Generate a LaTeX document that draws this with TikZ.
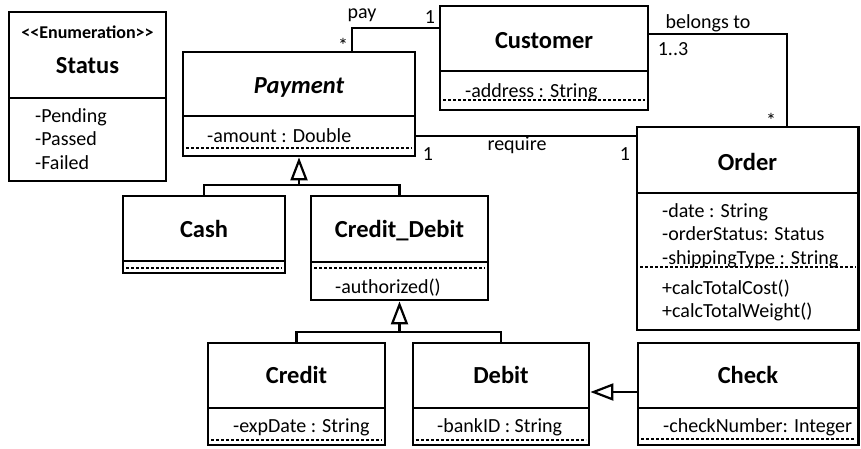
\documentclass[tikz,border=0pt]{standalone}
\usepackage{fontspec}
\setmainfont{Carlito}
\usetikzlibrary{arrows.meta}
\newcommand\umlbox[6]{%
  \node[cls, minimum width={#4pt-#2pt}, minimum height={#5pt-#3pt}] (#1) at ({(#2+#4)/2},{(#3+#5)/2}) {};
  \draw[divline] (#2,#6) -- (#4,#6);
}
\begin{document}
\begin{tikzpicture}[x=1pt,y=-1pt,
  cls/.style={draw, line width=2.8pt, inner sep=0pt},
  divline/.style={line width=2.8pt},
  dashline/.style={line width=1.2pt, dash pattern=on 3pt off 2pt},
  conn/.style={line width=2.2pt},
  genarrow/.style={-{Triangle[open, length=23pt, width=17pt, line width=2.2pt]}},
  ttl/.style={font=\fontsize{24.5}{29}\selectfont\bfseries, inner sep=0pt, anchor=base},
  enum/.style={font=\fontsize{18}{22}\selectfont\bfseries, inner sep=0pt, anchor=base},
  attr/.style={font=\fontsize{20}{24}\selectfont, inner sep=0pt, anchor=base west},
  lbl/.style={font=\fontsize{20}{24}\selectfont, inner sep=0pt, anchor=base}]
\useasboundingbox (0,0) rectangle (861,448);

% classes
\umlbox{status}{9}{12}{166}{181}{98}
\umlbox{customer}{440}{6}{648}{110}{71}
\umlbox{payment}{183}{52}{415}{156}{116}
\umlbox{order}{637}{127}{858.5}{330}{193}
\umlbox{cash}{123}{196}{285}{273}{261}
\umlbox{cd}{311}{196}{488}{300}{262}
\umlbox{credit}{208}{343}{385}{445}{408}
\umlbox{debit}{413}{343}{589}{445}{408}
\umlbox{check}{638}{343}{858.5}{445}{408}

% dashed separators
\draw[dashline] (443,100) -- (645,100);
\draw[dashline] (186,148) -- (412,148);
\draw[dashline] (640,267) -- (855.5,267);
\draw[dashline] (126,268) -- (282,268);
\draw[dashline] (314,268) -- (485,268);
\draw[dashline] (211,440) -- (382,440);
\draw[dashline] (416,440) -- (586,440);
\draw[dashline] (641,439) -- (855.5,439);

% texts
\node[enum] (status-s) at (87.5,38) {<\kern0pt<Enumeration>\kern0pt>};
\node[ttl] (status-t) at (87.5,73) {Status};
\node[attr] (status-a1) at (35,122) {-Pending};
\node[attr] (status-a2) at (35,145) {-Passed};
\node[attr] (status-a3) at (35,169) {-Failed};

\node[ttl] (customer-t) at (544,48) {Customer};
\node[attr] (customer-a1) at (465,97) {-address : String};

\node[ttl, font=\fontsize{24.5}{29}\selectfont\bfseries\itshape] (payment-t) at (299,93) {Payment};
\node[attr] (payment-a1) at (207,142) {-amount : Double};

\node[ttl] (order-t) at (747.5,170) {Order};
\node[attr] (order-a1) at (662,217) {-date : String};
\node[attr] (order-a2) at (662,240) {-orderStatus: Status};
\node[attr] (order-a3) at (662,264) {-shippingType : String};
\node[attr] (order-m1) at (662,294) {+calcTotalCost()};
\node[attr] (order-m2) at (662,317) {+calcTotalWeight()};

\node[ttl] (cash-t) at (204,237) {Cash};
\node[ttl] (cd-t) at (399.5,237) {Credit\_Debit};
\node[attr] (cd-m1) at (335,293) {-authorized()};

\node[ttl] (credit-t) at (296.5,383) {Credit};
\node[attr] (credit-a1) at (233,432) {-expDate : String};
\node[ttl] (debit-t) at (501,383) {Debit};
\node[attr] (debit-a1) at (437,432) {-bankID : String};
\node[ttl] (check-t) at (748,383) {Check};
\node[attr] (check-a1) at (663,432) {-checkNumber: Integer};

% associations
\coordinate (payj) at (352,28);
\draw[conn] (payj -| customer.west) -| (payment.north -| payj);
\node[lbl] (pay-l) at (362,18) {pay};
\node[lbl] (pay-m1) at (430,23) {1};
\node[lbl] (pay-m2) at (343,52) {*};

\coordinate (belj) at (787,34);
\draw[conn] (belj -| customer.east) -| (order.north -| belj);
\node[lbl] (bel-l) at (708,28) {belongs to};
\node[lbl] (bel-m1) at (673,55) {1..3};
\node[lbl] (bel-m2) at (771,127) {*};

\coordinate (reqj) at (0,136);
\draw[conn] (reqj -| payment.east) -- (reqj -| order.west);
\node[lbl] (req-m1) at (428,160) {1};
\node[lbl] (req-l) at (517,150) {require};
\node[lbl] (req-m2) at (625,160) {1};

% generalizations
\coordinate (g1) at (299,185);
\draw[conn] (cash.north) |- (g1) -| (cd.north);
\draw[conn, genarrow] (g1) -- (payment.south);
\coordinate (g2) at (399.5,332);
\draw[conn] (credit.north) |- (g2) -| (debit.north);
\draw[conn, genarrow] (g2) -- (cd.south);
\coordinate (g3) at (0,392);
\draw[conn, genarrow] (g3 -| check.west) -- (g3 -| debit.east);
\end{tikzpicture}
\end{document}
